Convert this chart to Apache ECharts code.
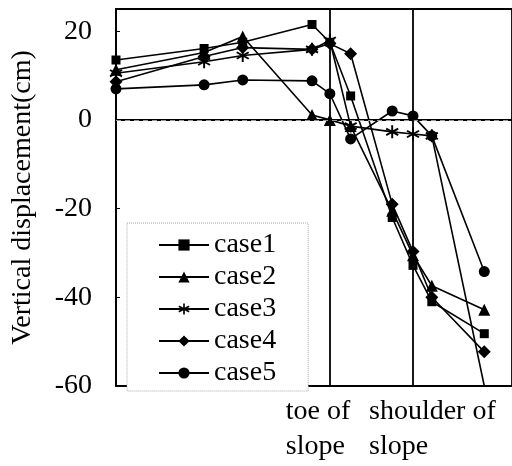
<!DOCTYPE html>
<html>
<head>
<meta charset="utf-8">
<script src="https://cdn.jsdelivr.net/npm/echarts@6/dist/echarts.min.js"></script>
<style>
  html, body { margin: 0; padding: 0; background: #fff; }
  #chart { width: 512px; height: 466px; }
</style>
</head>
<body>
<div id="chart"></div>
<script>
//Données
const positions = [0, 89, 128, 198, 216, 237, 279, 300, 319, 372];
const case1 = [13.5, 16.1, 17.5, 21.5, 17.5, 5.4, -22, -32.8, -41, -48.2];
const case2 = [11.3, 15.2, 18.8, 1.1, 0, -1.4, -20.5, -30.5, -37.4, -42.8];
const case3 = [10.5, 13.1, 14.5, 15.9, 17.9, -1.4, -2.7, -3.2, -3.6, -60];
const case4 = [8.6, 14.3, 16.3, 15.9, 17.2, 14.9, -19, -29.7, -40, -52.3];
const case5 = [7.0, 7.9, 9.0, 8.8, 5.9, -4.3, 2.0, 0.9, -3.6, -34.2];
const caseNames = ['case1', 'case2', 'case3', 'case4', 'case5'];

//Repères pied / crête du talus
const toeX = 216;
const shoulderX = 300;
const slopeLabels = [
  { at: toeX, text: 'toe of\nslope' },
  { at: shoulderX, text: 'shoulder of\nslope' }
];

const yMin = -60;
const font = '"Liberation Serif", "Times New Roman", serif';

//Astérisque (6 branches) pour case3
const asterisk = 'path://M43,0L57,0L57,100L43,100Z' +
  'M10.2,18.94L96.8,68.94L89.8,81.06L3.2,31.06Z' +
  'M96.8,31.06L10.2,81.06L3.2,68.94L89.8,18.94Z';

const symbols = [
  { symbol: 'rect', size: 9 },
  { symbol: 'triangle', size: 12 },
  { symbol: asterisk, size: 13 },
  { symbol: 'diamond', size: 13 },
  { symbol: 'circle', size: 11 }
];

const values = [case1, case2, case3, case4, case5];

let chart = echarts.init(document.getElementById('chart'));

//Les points au bas de l'axe sont coupés (pas de marqueur)
const series = values.map((vals, i) => ({
  name: caseNames[i],
  type: 'line',
  symbol: symbols[i].symbol,
  symbolSize: v => (v[1] <= yMin ? 0 : symbols[i].size),
  lineStyle: { color: '#000', width: 1.6 },
  itemStyle: { color: '#000' },
  data: vals.map((v, k) => [positions[k], v])
}));

//Ligne 0 en pointillés et verticales pied / crête
series[0].markLine = {
  silent: true,
  symbol: 'none',
  label: { show: false },
  data: [
    { yAxis: 0, lineStyle: { color: '#999', width: 1, type: [5, 4] } },
    { xAxis: toeX, lineStyle: { color: '#000', width: 1.8, type: 'solid' } },
    { xAxis: shoulderX, lineStyle: { color: '#000', width: 1.8, type: 'solid' } }
  ]
};

chart.setOption({
  backgroundColor: '#fff',
  animation: false,
  grid: {
    left: 116, right: -4, top: 9, bottom: 80,
    show: true, borderColor: '#000', borderWidth: 1.8
  },
  legend: {
    orient: 'vertical',
    left: 127, top: 223,
    padding: [8, 32, 4, 31],
    itemWidth: 50, itemHeight: 14, itemGap: 4,
    backgroundColor: '#fff',
    borderColor: '#aaa', borderWidth: 1, borderType: 'dotted',
    textStyle: { fontFamily: font, fontSize: 28, color: '#000', lineHeight: 28 },
    data: caseNames
  },
  xAxis: {
    type: 'value',
    min: 0, max: 400,
    axisLine: { lineStyle: { color: '#000', width: 1.8 } },
    axisTick: { show: false },
    axisLabel: { show: false },
    splitLine: { show: false }
  },
  yAxis: {
    type: 'value',
    min: yMin, max: 25, interval: 20,
    name: 'Vertical displacement(cm)',
    nameLocation: 'middle',
    nameGap: 79,
    nameTextStyle: { fontFamily: font, fontSize: 28, color: '#000' },
    axisLine: { show: true, lineStyle: { color: '#000', width: 1.8 } },
    axisTick: { show: true, inside: true, length: 4, lineStyle: { color: '#000' } },
    axisLabel: { fontFamily: font, fontSize: 28, color: '#000', margin: 24, showMaxLabel: false },
    splitLine: { show: false }
  },
  series: series
});

//Libellés sous l'axe x, placés à partir de l'échelle
chart.setOption({
  graphic: slopeLabels.map(l => ({
    type: 'text',
    x: chart.convertToPixel({ xAxisIndex: 0 }, l.at) - 44,
    y: 394,
    style: {
      text: l.text,
      font: '28px ' + font,
      fill: '#000',
      align: 'left',
      verticalAlign: 'top',
      lineHeight: 35
    }
  }))
});
</script>
</body>
</html>
